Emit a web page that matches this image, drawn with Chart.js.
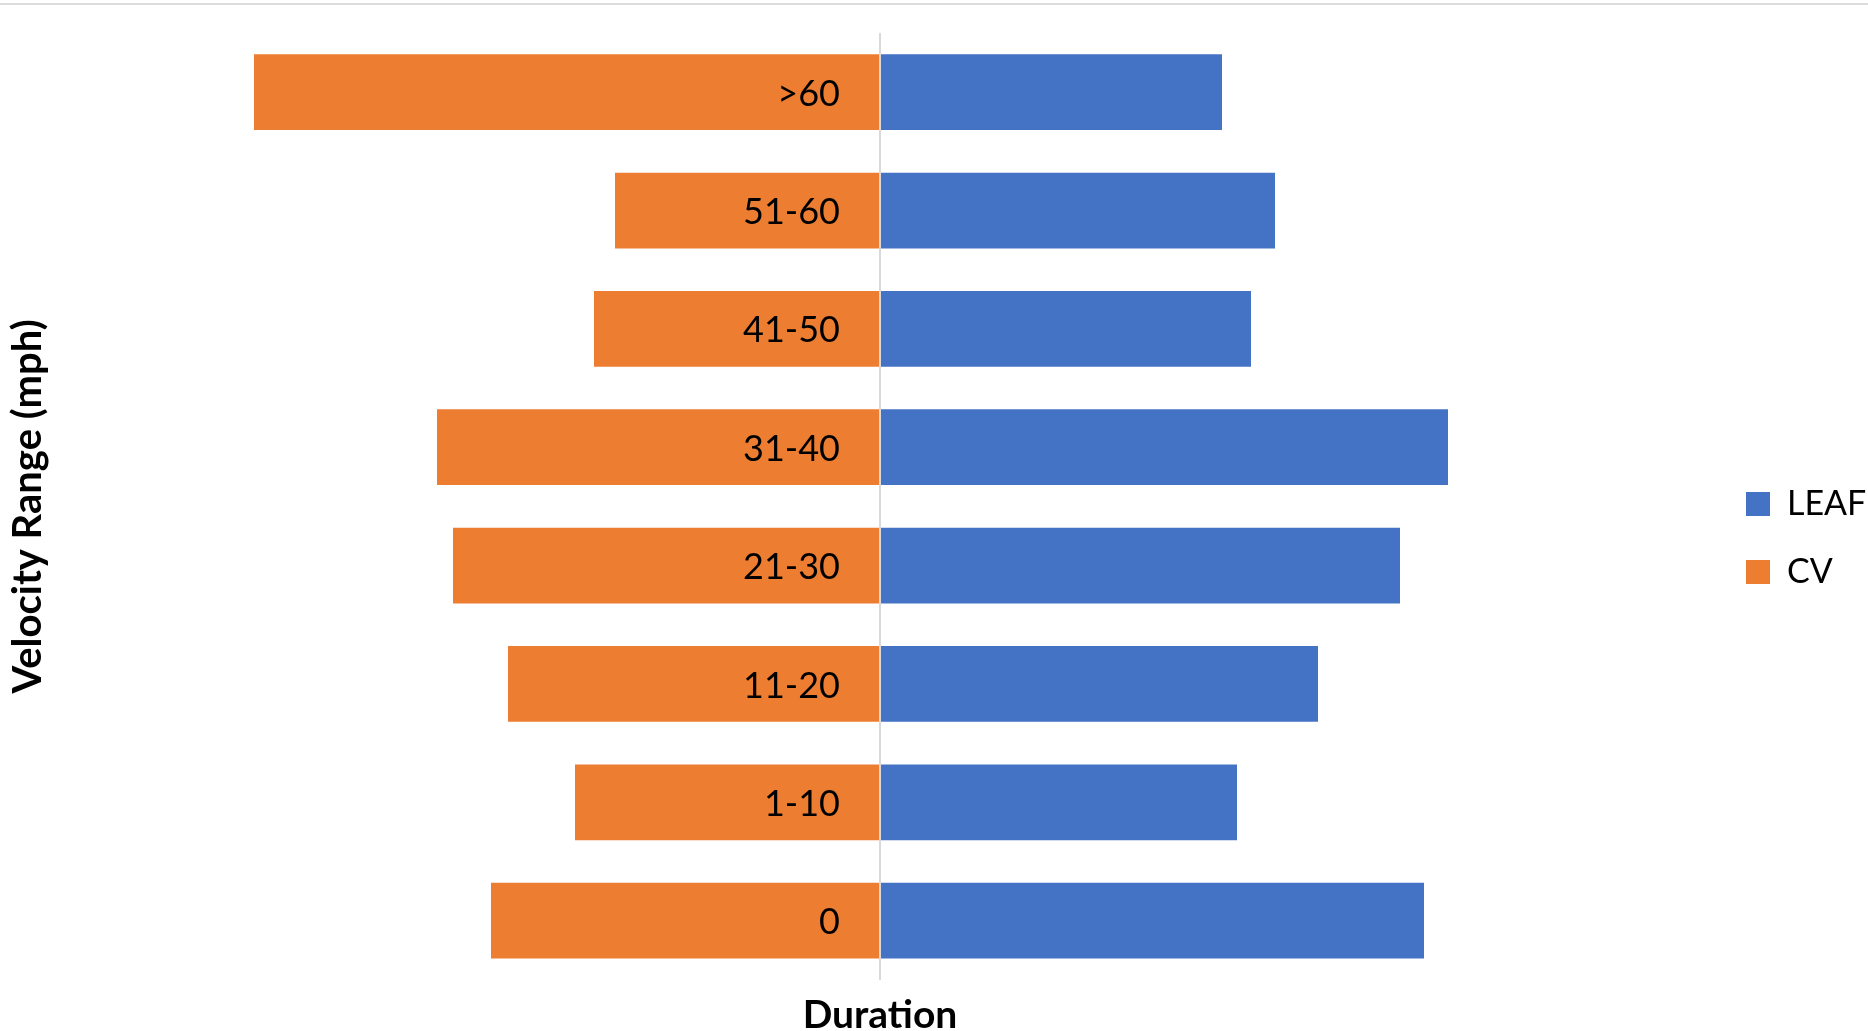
<!DOCTYPE html>
<html><head><meta charset="utf-8">
<script src="https://cdn.jsdelivr.net/npm/chart.js@4.4.0/dist/chart.umd.min.js"></script>
<style>
html,body{margin:0;padding:0;background:#fff;overflow:hidden}
#wrap{position:relative;width:1868px;height:1031px}
#topline{position:absolute;left:0;top:3px;width:1868px;height:2px;background:#dcdcdc}
</style></head><body>
<div id="wrap"><canvas id="c" width="1868" height="1031"></canvas><div id="topline"></div></div>
<script>
const categories = ['>60', '51-60', '41-50', '31-40', '21-30', '11-20', '1-10', '0'];
const leafValues = [34.2, 39.5, 37.1, 56.8, 52.0, 43.8, 35.7, 54.4];
const cvValues = [62.6, 26.5, 28.6, 44.3, 42.7, 37.2, 30.5, 38.9];
const seriesNames = ['LEAF', 'CV'];
const xTitle = 'Duration';
const yTitle = 'Velocity Range (mph)';
const xLimit = 83.2;

Chart.defaults.font.family = 'Lato';
Chart.defaults.color = '#000';

new Chart(document.getElementById('c'), {
  type: 'bar',
  data: {
    labels: categories,
    datasets: [
      { label: seriesNames[0], data: leafValues, backgroundColor: '#4472C4', borderWidth: 0, barPercentage: 0.8, categoryPercentage: 0.8 },
      { label: seriesNames[1], data: cvValues.map(v => -v), backgroundColor: '#ED7D31', borderWidth: 0, barPercentage: 0.8, categoryPercentage: 0.8 }
    ]
  },
  options: {
    indexAxis: 'y',
    responsive: false,
    animation: false,
    devicePixelRatio: 1,
    layout: { padding: { top: 33, left: 0, right: 0, bottom: 0 } },
    plugins: {
      tooltip: { enabled: false },
      legend: {
        position: 'right',
        maxWidth: 156,
        title: { display: true, text: ' ', font: { size: 10, lineHeight: 1.2 }, padding: { top: 0, bottom: 0 } },
        labels: { boxWidth: 24, boxHeight: 24, padding: 34, color: '#000', font: { size: 34 } }
      }
    },
    scales: {
      x: {
        stacked: true,
        min: -xLimit, max: xLimit,
        afterBuildTicks: s => { s.ticks = [{ value: 0 }]; },
        ticks: { display: false },
        grid: { drawTicks: false, color: '#d9d9d9', lineWidth: 2, z: 1 },
        border: { display: false },
        title: { display: true, text: xTitle, color: '#000', font: { size: 39, weight: 'bold', lineHeight: 0.8 }, padding: { top: 20, bottom: 0 } }
      },
      y: {
        stacked: true,
        position: { x: -4 },
        grid: { display: false, drawTicks: false },
        border: { display: false },
        ticks: { color: '#000', font: { size: 36 }, z: 2, labelOffset: 2 }
      },
      yt: {
        axis: 'y',
        type: 'category',
        position: 'left',
        ticks: { display: false },
        grid: { display: false, drawTicks: false },
        border: { display: false },
        title: { display: true, text: yTitle, color: '#000', font: { size: 40, weight: 'bold', lineHeight: 1 }, padding: { top: 8, bottom: 0 } }
      }
    }
  }
});
</script>
</body></html>
